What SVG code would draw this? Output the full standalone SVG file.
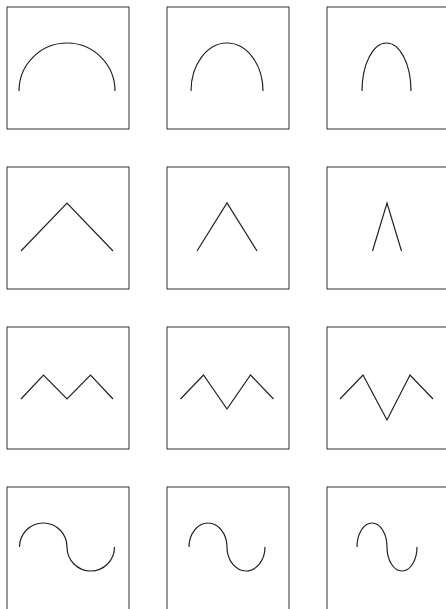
<svg xmlns="http://www.w3.org/2000/svg" width="446" height="609" viewBox="0 0 446 609">
<style>
rect.box{fill:none;stroke:#333;stroke-width:1}
.c{fill:none;stroke:#222;stroke-width:1.2;stroke-linejoin:miter}
</style>
<rect width="446" height="609" fill="#fff"/>
<g id="r1c1"><rect class="box" x="7" y="7" width="122" height="122"/><path class="c" d="M19,91 A48,48 0 0 1 115,91"/></g>
<g id="r1c2"><rect class="box" x="167" y="7" width="122" height="122"/><path class="c" d="M191,91 A36,48 0 0 1 263,91"/></g>
<g id="r1c3"><rect class="box" x="327" y="7" width="122" height="122"/><path class="c" d="M362,91 A24.5,48 0 0 1 411,91"/></g>
<g id="r2c1"><rect class="box" x="7" y="167" width="122" height="122"/><path class="c" d="M21,251 L67,203 L113,251"/></g>
<g id="r2c2"><rect class="box" x="167" y="167" width="122" height="122"/><path class="c" d="M197,251 L227,203 L257,251"/></g>
<g id="r2c3"><rect class="box" x="327" y="167" width="122" height="122"/><path class="c" d="M372.5,251 L387,203 L401.5,251"/></g>
<g id="r3c1"><rect class="box" x="7" y="327" width="122" height="122"/><path class="c" d="M21,399 L43.5,375 L67,399 L90.5,375 L113,399"/></g>
<g id="r3c2"><rect class="box" x="167" y="327" width="122" height="122"/><path class="c" d="M180.5,399 L203.5,375 L227,409 L250.5,375 L273.5,399"/></g>
<g id="r3c3"><rect class="box" x="327" y="327" width="122" height="122"/><path class="c" d="M340,399 L363,375 L387,420 L410,375 L433,399"/></g>
<g id="r4c1"><rect class="box" x="7" y="487" width="122" height="124"/><path class="c" d="M19.5,547 A23.75,24 0 0 1 67,547 A23.75,24 0 0 0 114.5,547"/></g>
<g id="r4c2"><rect class="box" x="167" y="487" width="122" height="124"/><path class="c" d="M189,547 A19,24 0 0 1 227,547 A19,24 0 0 0 265,547"/></g>
<g id="r4c3"><rect class="box" x="327" y="487" width="122" height="124"/><path class="c" d="M357,547 A15,24 0 0 1 387,547 A15,24 0 0 0 417,547"/></g>
</svg>
